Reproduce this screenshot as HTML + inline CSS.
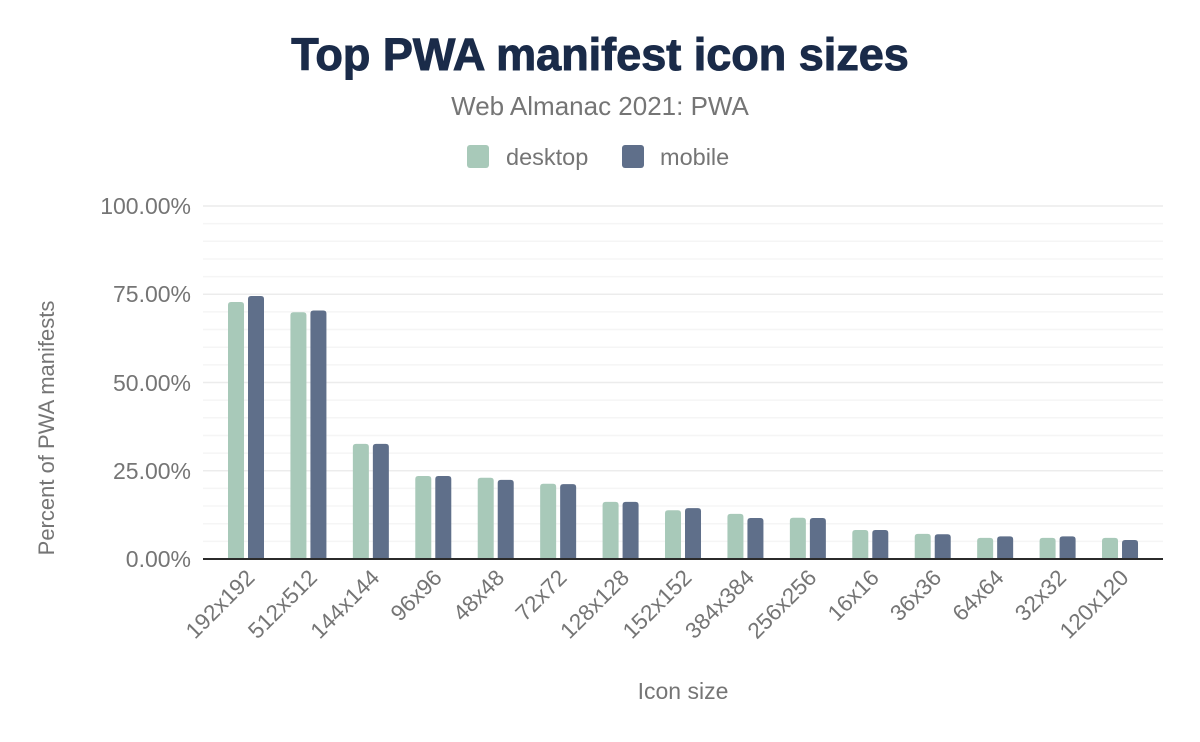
<!DOCTYPE html>
<html><head><meta charset="utf-8"><style>
html,body{margin:0;padding:0;background:#fff;}
svg{display:block;font-family:"Liberation Sans",sans-serif;}
</style></head><body>
<svg width="1200" height="742" viewBox="0 0 1200 742">
<text x="600" y="70" text-anchor="middle" font-size="45" font-weight="bold" fill="#1a2b49" stroke="#1a2b49" stroke-width="1">Top PWA manifest icon sizes</text>
<text x="600" y="115" text-anchor="middle" font-size="26" fill="#757575">Web Almanac 2021: PWA</text>
<rect x="467" y="145" width="22" height="23" rx="3" fill="#a8c9b9"/>
<text x="506" y="165" font-size="23.5" fill="#757575">desktop</text>
<rect x="622" y="145" width="22" height="23" rx="3" fill="#5f6f8a"/>
<text x="660" y="165" font-size="23.5" fill="#757575">mobile</text>
<g id="grid"></g>
<g id="bars"></g>
<line x1="203" y1="559" x2="1163" y2="559" stroke="#2b2b2b" stroke-width="2"/>
<g font-size="23" fill="#757575" text-anchor="end">
<text x="191" y="567">0.00%</text>
<text x="191" y="479">25.00%</text>
<text x="191" y="391">50.00%</text>
<text x="191" y="302">75.00%</text>
<text x="191" y="214">100.00%</text>
</g>
<text transform="translate(54,428) rotate(-90)" text-anchor="middle" font-size="22" fill="#757575">Percent of PWA manifests</text>
<text x="683" y="699" text-anchor="middle" font-size="23" fill="#757575">Icon size</text>
<g id="xl" font-size="22.5" fill="#757575" text-anchor="end"></g>
</svg>
<script>
var ns="http://www.w3.org/2000/svg";
function el(p,t,a,txt){var e=document.createElementNS(ns,t);for(var k in a)e.setAttribute(k,a[k]);if(txt)e.textContent=txt;document.getElementById(p).appendChild(e);}
var y0=559,s=3.53;
for(var i=1;i<=20;i++){var y=y0-i*5*s;el("grid","line",{x1:203,x2:1163,y1:y,y2:y,stroke:i%5==0?"#ececec":"#f5f5f5","stroke-width":1.5});}
var L=["192x192","512x512","144x144","96x96","48x48","72x72","128x128","152x152","384x384","256x256","16x16","36x36","64x64","32x32","120x120"];
var D=[72.8,69.9,32.6,23.5,23.0,21.3,16.2,13.8,12.8,11.7,8.2,7.1,6.0,6.0,6.0];
var M=[74.5,70.4,32.6,23.5,22.4,21.2,16.2,14.4,11.6,11.6,8.2,7.0,6.4,6.4,5.4];
for(var i=0;i<15;i++){var c=246+i*62.43;
 var hd=D[i]*s,hm=M[i]*s;
 el("bars","path",{d:"M"+(c-18)+","+y0+"V"+(y0-hd+3)+"q0,-3 3,-3h10q3,0 3,3V"+y0+"z",fill:"#a8c9b9"});
 el("bars","path",{d:"M"+(c+2)+","+y0+"V"+(y0-hm+3)+"q0,-3 3,-3h10q3,0 3,3V"+y0+"z",fill:"#5f6f8a"});
 el("xl","text",{transform:"translate("+(c+10)+",579) rotate(-45)"},L[i]);
}
</script>
</body></html>
